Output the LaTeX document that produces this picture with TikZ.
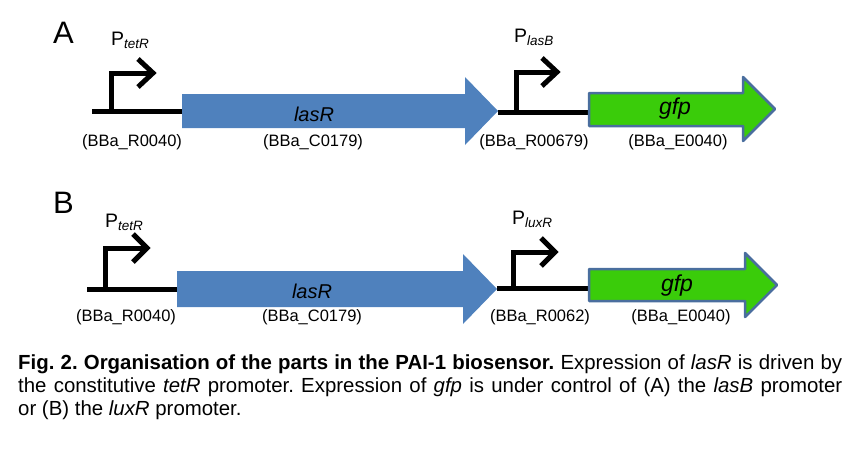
\documentclass[tikz,border=0pt]{standalone}
\usepackage{fontspec}
\setmainfont{Liberation Sans}
\definecolor{lasblue}{HTML}{4F81BD}
\definecolor{gfpgreen}{HTML}{3ACC0A}
\definecolor{gfpedge}{HTML}{4A6E9E}
\begin{document}
\begin{tikzpicture}[x=1pt, y=-1pt,
    dna/.style={line width=5pt},
    bent/.style={line width=5pt, line join=miter},
    cdsgreen/.style={fill=gfpgreen, draw=gfpedge, line width=2.5pt, line join=round},
    partlabel/.style={font=\fontsize{16.5}{18}\selectfont},
    genelabel/.style={font=\fontsize{20}{22}\selectfont\itshape, anchor=base},
    promlabel/.style={font=\fontsize{19.5}{20}\selectfont, anchor=base west, inner sep=0pt},
    rowlabel/.style={font=\fontsize{31}{31}\selectfont, anchor=base west, inner sep=0pt}]
    \useasboundingbox (0,0) rectangle (866,455);

    % Row A: backbone
    \draw[dna] (92,111) -- (182,111);
    \draw[dna] (498,112) -- (589,112);

    % Row A: promoters
    \draw[bent] (111,111) -- (111,73) -- (153,73);
    \draw[bent] (138,59) -- (153,73) -- (138,87);
    \draw[bent] (516,112) -- (516,72) -- (557,72);
    \draw[bent] (542,58) -- (557,72) -- (542,86);

    % Row A: coding sequences
    \fill[lasblue] (182,94) -- (465,94) -- (465,77) -- (498,111) -- (465,145) -- (465,128) -- (182,128) -- cycle;
    \filldraw[cdsgreen] (589,93) -- (743,93) -- (743,77) -- (775,109) -- (743,141) -- (743,126) -- (589,126) -- cycle;

    % Row B: backbone
    \draw[dna] (87,289) -- (177,289);
    \draw[dna] (497,288) -- (589,288);

    % Row B: promoters
    \draw[bent] (105,289) -- (105,248) -- (147,248);
    \draw[bent] (133,234) -- (147,248) -- (133,262);
    \draw[bent] (513,288) -- (513,252) -- (555,252);
    \draw[bent] (541,238) -- (555,252) -- (541,266);

    % Row B: coding sequences
    \fill[lasblue] (177,271) -- (463,271) -- (463,254) -- (497,289) -- (463,324) -- (463,307) -- (177,307) -- cycle;
    \filldraw[cdsgreen] (589,269) -- (745,269) -- (745,253) -- (777,285) -- (745,317) -- (745,301) -- (589,301) -- cycle;

    % Row labels
    \node[rowlabel] (rowA) at (53,43) {A};
    \node[rowlabel] (rowB) at (53,213) {B};

    % Promoter names
    \node[promlabel] (ptetA) at (111,45) {P\raisebox{-3.5pt}{\fontsize{13.5}{14}\selectfont\itshape tetR}};
    \node[promlabel] (plasB) at (514,42) {P\raisebox{-3.5pt}{\fontsize{13.5}{14}\selectfont\itshape lasB}};
    \node[promlabel] (ptetB) at (105,227) {P\raisebox{-3.5pt}{\fontsize{13.5}{14}\selectfont\itshape tetR}};
    \node[promlabel] (pluxR) at (512,224) {P\raisebox{-3.5pt}{\fontsize{13.5}{14}\selectfont\itshape luxR}};

    % Gene names
    \node[genelabel] (lasRA) at (314,121) {lasR};
    \node[genelabel, font=\fontsize{23}{24}\selectfont\itshape] (gfpA) at (675,114) {gfp};
    \node[genelabel] (lasRB) at (312,298) {lasR};
    \node[genelabel, font=\fontsize{23}{24}\selectfont\itshape] (gfpB) at (677,291) {gfp};

    % Part numbers
    \node[partlabel] (partA1) at (132,142) {(BBa\_R0040)};
    \node[partlabel] (partA2) at (313,142) {(BBa\_C0179)};
    \node[partlabel] (partA3) at (534,142) {(BBa\_R00679)};
    \node[partlabel] (partA4) at (678,142) {(BBa\_E0040)};
    \node[partlabel] (partB1) at (126,317) {(BBa\_R0040)};
    \node[partlabel] (partB2) at (312,317) {(BBa\_C0179)};
    \node[partlabel] (partB3) at (540,317) {(BBa\_R0062)};
    \node[partlabel] (partB4) at (681,317) {(BBa\_E0040)};

    % Caption
    \node[anchor=north west, inner sep=0pt, text width=824pt, align=justify,
        font=\fontsize{20.4}{23}\selectfont\frenchspacing] (caption) at (18,355)
        {\textbf{Fig. 2. Organisation of the parts in the PAI-1 biosensor.} Expression of \textit{lasR} is driven by\linebreak
        the constitutive \textit{tetR} promoter. Expression of \textit{gfp} is under control of (A) the \textit{lasB} promoter\linebreak
        or (B) the \textit{luxR} promoter.};
\end{tikzpicture}
\end{document}
